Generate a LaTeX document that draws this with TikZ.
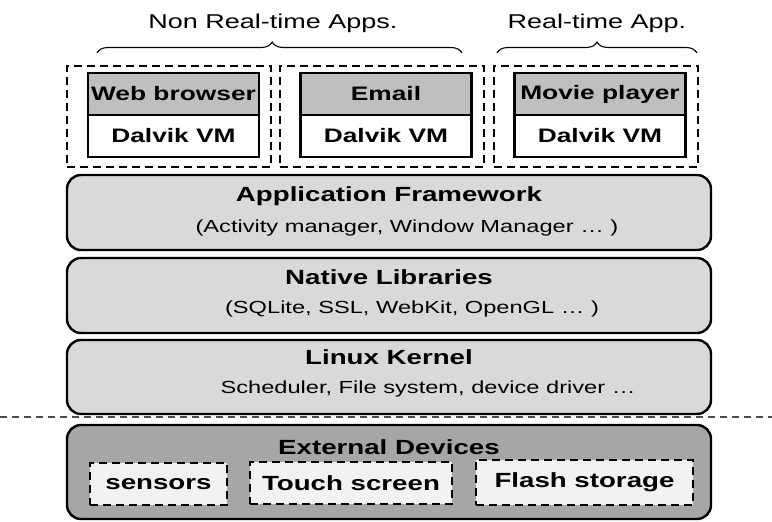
\documentclass[tikz,border=0pt]{standalone}
\usepackage{fontspec}
\setmainfont{Liberation Sans}[FakeStretch=1.35]
\usetikzlibrary{decorations.pathreplacing}

\definecolor{layergray}{HTML}{D9D9D9}
\definecolor{devgray}{HTML}{A6A6A6}
\definecolor{appgray}{HTML}{BFBFBF}
\definecolor{devwhite}{HTML}{F2F2F2}

\begin{document}
\begin{tikzpicture}[x=1pt,y=-1pt,
  layer/.style={draw=black,line width=2.4pt,rounded corners=14pt,fill=layergray,minimum width=644pt,inner sep=0pt},
  layertitle/.style={font=\bfseries\fontsize{20.5}{24}\selectfont,inner sep=0pt},
  layersub/.style={font=\fontsize{17.5}{21}\selectfont,inner sep=0pt},
  appbox/.style={draw=black,line width=2pt,dash pattern=on 8pt off 5pt,minimum width=204pt,minimum height=101pt,inner sep=0pt},
  app/.style={draw=black,line width=2.4pt,fill=appgray,minimum width=171pt,minimum height=42pt,inner sep=0pt,font=\bfseries\fontsize{19.5}{23}\selectfont},
  vm/.style={app,fill=white},
  devbox/.style={draw=black,line width=2pt,dash pattern=on 8pt off 5pt,fill=devwhite,minimum height=42pt,inner sep=0pt,font=\bfseries\fontsize{20.5}{24}\selectfont},
  grouptext/.style={font=\fontsize{20}{24}\selectfont,inner sep=0pt},
  brace/.style={decorate,line width=1.1pt}
]
\useasboundingbox (0,0) rectangle (772,522);

% application groups
\node[grouptext] (nrt) at (273,23) {Non Real-time Apps.};
\node[grouptext] (rt) at (597,23) {Real-time App.};
\coordinate (nrtleft) at (97,53);
\coordinate (nrtright) at (462,53);
\coordinate (rtleft) at (497,53);
\coordinate (rtright) at (697,53);
\draw[brace,decoration={brace,amplitude=11pt,aspect=0.48}] (nrtleft) -- (nrtright);
\draw[brace,decoration={brace,amplitude=11pt,aspect=0.5}] (rtleft) -- (rtright);

\node[appbox] (webbox) at (169,116.5) {};
\node[appbox] (mailbox) at (381.5,116.5) {};
\node[appbox] (moviebox) at (595.5,116.5) {};
\node[app] (web) at (173.5,94) {Web browser};
\node[vm] (webvm) at (173.5,136) {Dalvik VM};
\node[app] (mail) at (386,94) {Email};
\node[vm] (mailvm) at (386,136) {Dalvik VM};
\node[app] (movie) at (600,94) {Movie player};
\node[vm] (movievm) at (600,136) {Dalvik VM};

% software layers
\node[layer,minimum height=75pt] (fw) at (389,212.5) {};
\node[layertitle] (fwtitle) at (389,196) {Application Framework};
\node[layersub] (fwsub) at (407,228) {(Activity manager, Window Manager … )};

\node[layer,minimum height=75pt] (lib) at (389,295.5) {};
\node[layertitle] (libtitle) at (389,277) {Native Libraries};
\node[layersub] (libsub) at (412,309) {(SQLite, SSL, WebKit, OpenGL … )};

\node[layer,minimum height=74pt] (kernel) at (389,377) {};
\node[layertitle] (kerneltitle) at (389,357) {Linux Kernel};
\node[layersub] (kernelsub) at (428,389) {Scheduler, File system, device driver …};

\draw[line width=1.4pt,gray!60!black,dash pattern=on 7pt off 5pt] (0,417) -- (772,417);

% hardware
\node[layer,fill=devgray,minimum height=94pt] (ext) at (389,472) {};
\node[layertitle] (exttitle) at (389,447) {External Devices};
\node[devbox,minimum width=137pt] (sensors) at (158.5,484) {sensors};
\node[devbox,minimum width=202pt] (touch) at (351,483) {Touch screen};
\node[devbox,minimum width=217pt,minimum height=45pt] (flash) at (584.5,482.5) {Flash storage};
\end{tikzpicture}
\end{document}
